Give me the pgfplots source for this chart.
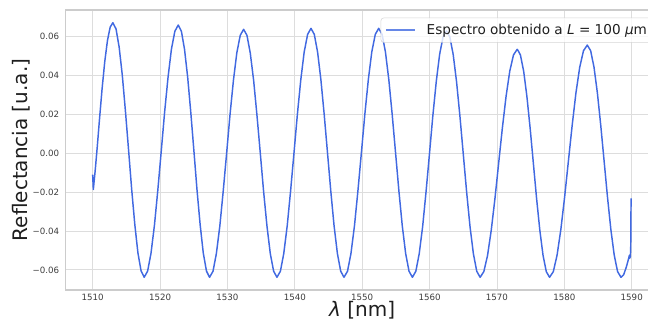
\documentclass[border=0pt]{standalone}
\usepackage{fontspec}
\setmainfont{DejaVu Sans}
\usepackage{pgfplots}
\pgfplotsset{compat=1.18}
\definecolor{lineblue}{RGB}{65,105,225}
\definecolor{gridc}{RGB}{221,221,221}
\definecolor{spinec}{RGB}{204,204,204}
\definecolor{tickc}{RGB}{60,60,60}
\definecolor{labc}{RGB}{30,30,30}
\begin{document}
\begin{tikzpicture}
\begin{axis}[
  at={(0,0)}, anchor=south west,
  scale only axis, width=444.75pt, height=210pt,
  xmin=1506, xmax=1594, ymin=-0.07035, ymax=0.07375,
  scaled y ticks=false, scaled x ticks=false,
  xtick={1510,1520,1530,1540,1550,1560,1570,1580,1590},
  xticklabels={1510,1520,1530,1540,1550,1560,1570,1580,1590},
  ytick={-0.06,-0.04,-0.02,0,0.02,0.04,0.06},
  yticklabels={−0.06,−0.04,−0.02,0.00,0.02,0.04,0.06},
  major tick length=0pt,
  grid=major,
  major grid style={color=gridc, line width=0.6pt},
  axis line style={color=spinec, line width=0.9pt},
  xticklabel style={font=\fontsize{6.5}{7.5}\selectfont, color=tickc, anchor=north, inner sep=0pt, yshift=-3.2pt},
  yticklabel style={font=\fontsize{6.5}{7.5}\selectfont, color=tickc, anchor=east, inner sep=0pt, xshift=-4.7pt},
  xlabel={\textit{λ} [nm]},
  ylabel={Reflectancia [u.a.]},
  xlabel style={font=\fontsize{15}{18}\selectfont, color=labc, at={(axis description cs:0.5,0)}, anchor=center, yshift=-15pt, inner sep=0pt},
  ylabel style={font=\fontsize{15}{18}\selectfont, color=labc, at={(axis description cs:-0.0758,0.5)}, anchor=center, inner sep=0pt},
  legend style={at={(rel axis cs:0.5312,0.9724)}, anchor=north west,
    draw=spinec, fill=white, fill opacity=0.8, draw opacity=0.8, text opacity=1,
    rounded corners=2pt, inner xsep=3.2pt, inner ysep=4.5pt,
    font=\fontsize{10.2}{12}\selectfont, text=labc,
    nodes={inner sep=0pt},
    /tikz/every odd column/.append style={column sep=8.25pt}},
  legend image code/.code={\draw[#1] (0pt,0pt) -- (21.75pt,0pt);},
]
\addplot[color=lineblue, line width=1.1pt, line join=round] coordinates {
(1510.00,-0.0110) (1510.10,-0.0186) (1510.40,-0.0080) (1510.70,0.0040) (1511.00,0.0169) (1511.40,0.0332) (1511.80,0.0473) (1512.20,0.0581) (1512.60,0.0649) (1513.00,0.0672)
(1513.47,0.0640) (1513.93,0.0547) (1514.40,0.0402) (1514.86,0.0219) (1515.33,0.0017) (1515.79,-0.0185) (1516.26,-0.0368) (1516.72,-0.0513) (1517.19,-0.0606) (1517.65,-0.0638)
(1518.16,-0.0606) (1518.66,-0.0514) (1519.17,-0.0370) (1519.67,-0.0190) (1520.18,0.0011) (1520.68,0.0212) (1521.19,0.0392) (1521.69,0.0536) (1522.20,0.0628) (1522.70,0.0660)
(1523.17,0.0628) (1523.63,0.0536) (1524.10,0.0392) (1524.56,0.0212) (1525.03,0.0011) (1525.49,-0.0190) (1525.96,-0.0370) (1526.42,-0.0514) (1526.89,-0.0606) (1527.35,-0.0638)
(1527.86,-0.0607) (1528.36,-0.0516) (1528.87,-0.0375) (1529.37,-0.0197) (1529.88,0.0000) (1530.38,0.0197) (1530.89,0.0375) (1531.39,0.0516) (1531.90,0.0607) (1532.40,0.0638)
(1532.90,0.0607) (1533.39,0.0516) (1533.89,0.0375) (1534.38,0.0197) (1534.88,0.0000) (1535.37,-0.0197) (1535.87,-0.0375) (1536.36,-0.0516) (1536.86,-0.0607) (1537.35,-0.0638)
(1537.86,-0.0607) (1538.36,-0.0516) (1538.87,-0.0374) (1539.37,-0.0195) (1539.88,0.0003) (1540.38,0.0200) (1540.89,0.0379) (1541.39,0.0521) (1541.90,0.0612) (1542.40,0.0643)
(1542.89,0.0612) (1543.38,0.0521) (1543.87,0.0379) (1544.36,0.0200) (1544.85,0.0003) (1545.34,-0.0195) (1545.83,-0.0374) (1546.32,-0.0516) (1546.81,-0.0607) (1547.30,-0.0638)
(1547.82,-0.0607) (1548.33,-0.0516) (1548.85,-0.0374) (1549.36,-0.0195) (1549.88,0.0003) (1550.39,0.0200) (1550.91,0.0379) (1551.42,0.0521) (1551.94,0.0612) (1552.45,0.0643)
(1552.95,0.0612) (1553.45,0.0521) (1553.95,0.0379) (1554.45,0.0200) (1554.95,0.0003) (1555.45,-0.0195) (1555.95,-0.0374) (1556.45,-0.0516) (1556.95,-0.0607) (1557.45,-0.0638)
(1557.96,-0.0607) (1558.46,-0.0517) (1558.97,-0.0377) (1559.47,-0.0200) (1559.98,-0.0004) (1560.48,0.0192) (1560.99,0.0369) (1561.49,0.0509) (1562.00,0.0599) (1562.50,0.0630)
(1563.00,0.0599) (1563.50,0.0509) (1564.00,0.0369) (1564.50,0.0192) (1565.00,-0.0004) (1565.50,-0.0200) (1566.00,-0.0377) (1566.50,-0.0517) (1567.00,-0.0607) (1567.50,-0.0638)
(1568.05,-0.0609) (1568.60,-0.0526) (1569.15,-0.0396) (1569.70,-0.0233) (1570.25,-0.0051) (1570.80,0.0130) (1571.35,0.0293) (1571.90,0.0423) (1572.45,0.0506) (1573.00,0.0535)
(1573.20,0.0525) (1573.48,0.0506) (1573.96,0.0423) (1574.44,0.0293) (1574.92,0.0130) (1575.40,-0.0051) (1575.88,-0.0233) (1576.36,-0.0396) (1576.84,-0.0526) (1577.32,-0.0609) (1577.80,-0.0638)
(1578.36,-0.0609) (1578.92,-0.0524) (1579.48,-0.0392) (1580.04,-0.0225) (1580.60,-0.0040) (1581.16,0.0144) (1581.72,0.0311) (1582.28,0.0443) (1582.84,0.0528) (1583.40,0.0557)
(1583.90,0.0528) (1584.40,0.0443) (1584.90,0.0311) (1585.40,0.0144) (1585.90,-0.0040) (1586.40,-0.0225) (1586.90,-0.0392) (1587.40,-0.0524) (1587.90,-0.0609) (1588.40,-0.0638)
(1588.80,-0.0625) (1589.20,-0.0585) (1589.55,-0.0540) (1589.65,-0.0525) (1589.70,-0.0540) (1589.80,-0.0530) (1589.85,-0.0480) (1589.90,-0.0232)
};
\addlegendentry{Espectro obtenido a \textit{L} = 100 \textit{μ}m}
\end{axis}
\pgfresetboundingbox
\path[use as bounding box] (-49.275pt,-23.25pt) rectangle (436.725pt,217.5pt);
\end{tikzpicture}
\end{document}
